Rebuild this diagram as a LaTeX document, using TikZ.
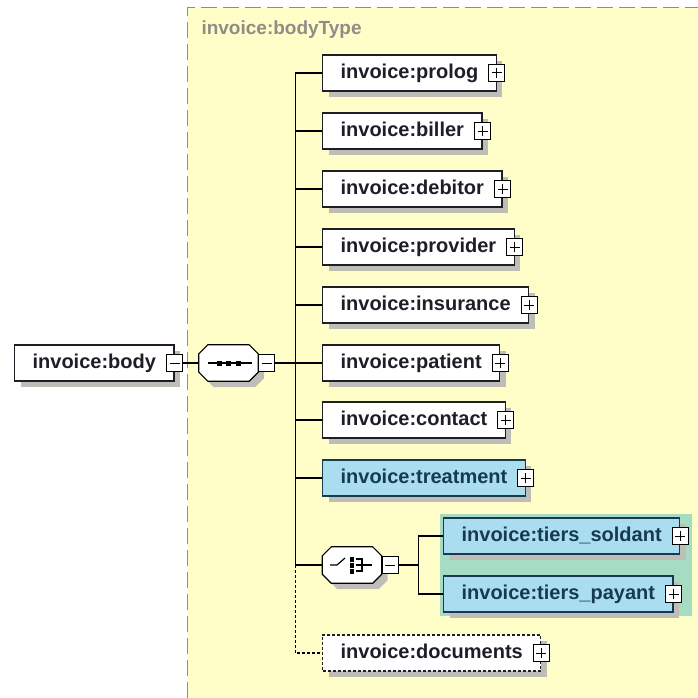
\documentclass[tikz,border=0pt]{standalone}
\usepackage{fontspec}
\setmainfont{Liberation Sans}
\usetikzlibrary{positioning,shadows,backgrounds,fit}
\definecolor{paper}{HTML}{FFFDC8}
\definecolor{elemblue}{HTML}{A9DDEF}
\definecolor{choicegreen}{HTML}{A6DCC4}
\definecolor{ink}{HTML}{1E1E28}
\definecolor{navy}{HTML}{163A50}
\definecolor{shade}{HTML}{BEBEB6}
\definecolor{labelgray}{HTML}{8E8E86}

\begin{document}
\begin{tikzpicture}[x=1pt,y=-1pt,
    font=\fontsize{20}{22}\selectfont\bfseries,
    element/.style={draw=ink, line width=1.2pt, fill=white, text=ink, anchor=west,
      minimum height=36pt, inner xsep=18pt, inner ysep=0pt,
      text height=14.5pt, text depth=4pt,
      drop shadow={shadow xshift=6pt, shadow yshift=-6pt, fill=shade, opacity=1}},
    typed/.style={element, fill=elemblue, draw=navy, text=navy},
    optional/.style={element, dash pattern=on 3pt off 2pt},
    toggle/.style={draw=black, fill=white, line width=1pt,
      minimum width=16pt, minimum height=17pt, inner sep=0pt},
    expand/.style={toggle, path picture={
      \draw[line width=1pt] ([xshift=-5pt]path picture bounding box.center) -- ++(10pt,0pt)
        ([yshift=-5pt]path picture bounding box.center) -- ++(0pt,10pt);}},
    collapse/.style={toggle, path picture={
      \draw[line width=1pt] ([xshift=-5pt]path picture bounding box.center) -- ++(10pt,0pt);}},
    compositor/.style={minimum width=59pt, minimum height=36pt, inner sep=0pt},
    octagon/.style={draw=black, line width=1.2pt, fill=white,
      drop shadow={shadow xshift=6pt, shadow yshift=-6pt, fill=shade, opacity=1}},
    link/.style={draw=black, line width=1.2pt}
  ]
  \useasboundingbox (0,0) rectangle (698,698);

  % complex type frame
  \begin{scope}[on background layer]
    \fill[paper] (187,8) rectangle (698,698);
    \draw[labelgray, line width=1pt, dash pattern=on 16pt off 6pt] (187,698) -- (187,8) -- (698,8);
  \end{scope}
  \node[anchor=west, text=labelgray, font=\fontsize{19}{21}\selectfont\bfseries] (typename)
    at (198,30) {invoice:bodyType};

  % root element
  \node[element] (body) at (14,363) {invoice:body};
  \node[collapse] (body-x) at (body.east) {};

  % compositors (sequence, choice)
  \node[compositor] (seq) at (228.5,363) {};
  \node[compositor] (choice) at (352,565) {};
  \foreach \c in {seq, choice}
    \path[octagon] ([xshift=9pt]\c.north west) -- ([xshift=-9pt]\c.north east)
      -- ([yshift=-9pt]\c.north east) -- ([yshift=9pt]\c.south east)
      -- ([xshift=-9pt]\c.south east) -- ([xshift=9pt]\c.south west)
      -- ([yshift=9pt]\c.south west) -- ([yshift=-9pt]\c.north west) -- cycle;
  \node[collapse, anchor=west] (seq-x) at (seq.east) {};
  \node[collapse, anchor=west] (choice-x) at (choice.east) {};

  % children
  \foreach \n/\y in {prolog/73, biller/131, debitor/189, provider/247,
                     insurance/305, patient/363, contact/420} {
    \node[element] (\n) at (322,\y) {invoice:\n};
    \node[expand] (\n-x) at (\n.east) {};
  }
  \node[typed] (treatment) at (322,478) {invoice:treatment};
  \node[expand] (treatment-x) at (treatment.east) {};

  \node[typed] (soldant) at (443,536) {invoice:tiers\_soldant};
  \node[expand] (soldant-x) at (soldant.east) {};
  \node[typed] (payant) at (443,594) {invoice:tiers\_payant};
  \node[expand] (payant-x) at (payant.east) {};
  \begin{scope}[on background layer]
    \node[fill=choicegreen, inner sep=3pt, fit=(soldant)(soldant-x)(payant)(payant-x)] (group) {};
  \end{scope}

  \node[optional] (documents) at (322,653) {invoice:documents};
  \node[expand] (documents-x) at (documents.east) {};

  % connectors
  \draw[link] (body-x) -- (seq);
  \draw[link] (seq-x.east) -- ++(20,0) coordinate (hub);
  \foreach \n in {prolog, biller, debitor, provider, insurance, patient, contact, treatment}
    \draw[link] (hub) |- (\n.west);
  \draw[link] (hub) |- (choice.west);
  \draw[link, dash pattern=on 3pt off 2pt] (hub |- choice.west) |- (documents.west);
  \draw[link] (choice-x.east) -- ++(20,0) coordinate (fork);
  \draw[link] (fork) |- (soldant.west);
  \draw[link] (fork) |- (payant.west);

  % compositor marks
  \draw[line width=1.2pt] ([xshift=-21pt]seq.center) -- ([xshift=23pt]seq.center);
  \foreach \dx in {-9.5,0,9.5}
    \fill ([xshift=\dx]seq.center) ++(-2.5,-2.5) rectangle ++(5,5);
  \draw[line width=1.2pt] ([xshift=-22pt]choice.center) -- ++(7,0) -- ++(8,-7);
  \foreach \dy in {-6,0,6}
    \fill ([yshift=\dy]choice.center) ++(-2,-2.5) rectangle ++(4,5);
  \draw[line width=1.2pt] (choice.center) ++(4,-6) -- ++(6,0) -- ++(0,12) -- ++(-6,0)
    ++(0,-6) -- ++(16,0);
\end{tikzpicture}
\end{document}
